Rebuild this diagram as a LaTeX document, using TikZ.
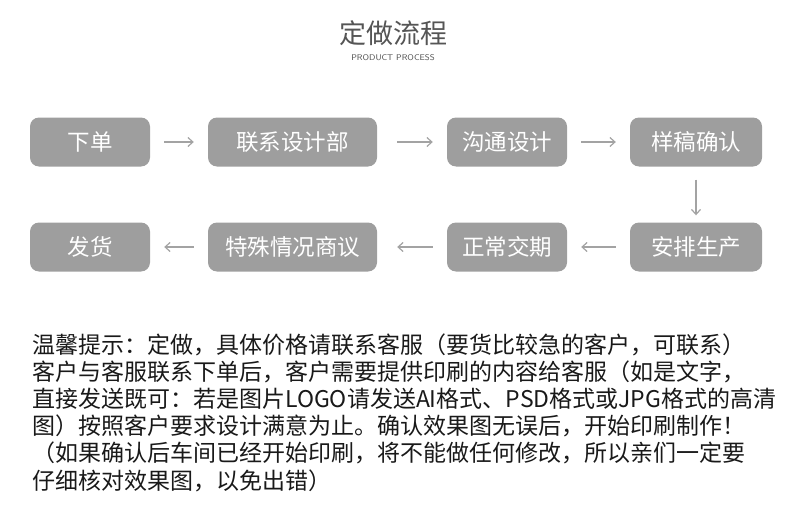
\documentclass[tikz,border=0pt]{standalone}
\usepackage{fontspec}
\usepackage{xcolor}
\usepackage{tikz}
\usetikzlibrary{positioning,arrows.meta}
\newfontfamily\cjk{Noto Sans CJK SC}
\definecolor{boxgray}{HTML}{9E9E9E}
\definecolor{arrowgray}{HTML}{A3A3A3}
\definecolor{titlegray}{HTML}{555555}
\tikzset{
  stepbox/.style={fill=boxgray, rounded corners=9pt, text=white, inner sep=0pt,
    minimum height=49pt, font=\cjk\fontsize{22.5}{26}\selectfont},
  flow/.style={draw=arrowgray, line width=1.2pt, -{Straight Barb[length=5pt,width=9pt]},
    shorten <=14pt, shorten >=14pt},
  tipline/.style={anchor=west, inner sep=0pt, text=black!90,
    font=\cjk\fontsize{23}{26}\selectfont}
}

\begin{document}
\begin{tikzpicture}[x=1pt,y=-1pt]
  \useasboundingbox (0,0) rectangle (790,519);

  % Titulo
  \node[text=titlegray, font=\cjk\fontsize{27}{30}\selectfont] (title) at (393,33) {定做流程};
  \node[text=titlegray, font=\sffamily\fontsize{8.3}{10}\selectfont] (subtitle) at (393,58) {PRODUCT PROCESS};

  % Fila superior
  \node[stepbox, minimum width=120pt] (order)   at (90,142)    {下单};
  \node[stepbox, minimum width=169pt] (contact) at (292.5,142) {联系设计部};
  \node[stepbox, minimum width=120pt] (design)  at (507,142)   {沟通设计};
  \node[stepbox, minimum width=132pt] (sample)  at (696,142)   {样稿确认};

  % Fila inferior
  \node[stepbox, minimum width=120pt] (ship)    at (90,247)    {发货};
  \node[stepbox, minimum width=169pt] (special) at (292.5,247) {特殊情况商议};
  \node[stepbox, minimum width=120pt] (normal)  at (507,247)   {正常交期};
  \node[stepbox, minimum width=132pt] (produce) at (696,247)   {安排生产};

  % Flechas
  \draw[flow] (order) -- (contact);
  \draw[flow, shorten <=20pt] (contact) -- (design);
  \draw[flow] (design) -- (sample);
  \draw[flow, shorten <=13pt, shorten >=7pt] (sample) -- (produce);
  \draw[flow] (produce) -- (normal);
  \draw[flow, shorten >=20pt] (normal) -- (special);
  \draw[flow] (special) -- (ship);

  % Nota
  \foreach \i/\y/\t in {
    1/345/{温馨提示：定做，具体价格请联系客服（要货比较急的客户，可联系）},
    2/372/{客户与客服联系下单后，客户需要提供印刷的内容给客服（如是文字，},
    3/399/{直接发送既可：若是图片LOGO请发送AI格式、PSD格式或JPG格式的高清},
    4/426/{图）按照客户要求设计满意为止。确认效果图无误后，开始印刷制作！},
    5/453/{（如果确认后车间已经开始印刷，将不能做任何修改，所以亲们一定要},
    6/481/{仔细核对效果图，以免出错）}}{
    \node[tipline] (tip\i) at (32,\y) {\t};
  }
\end{tikzpicture}
\end{document}
